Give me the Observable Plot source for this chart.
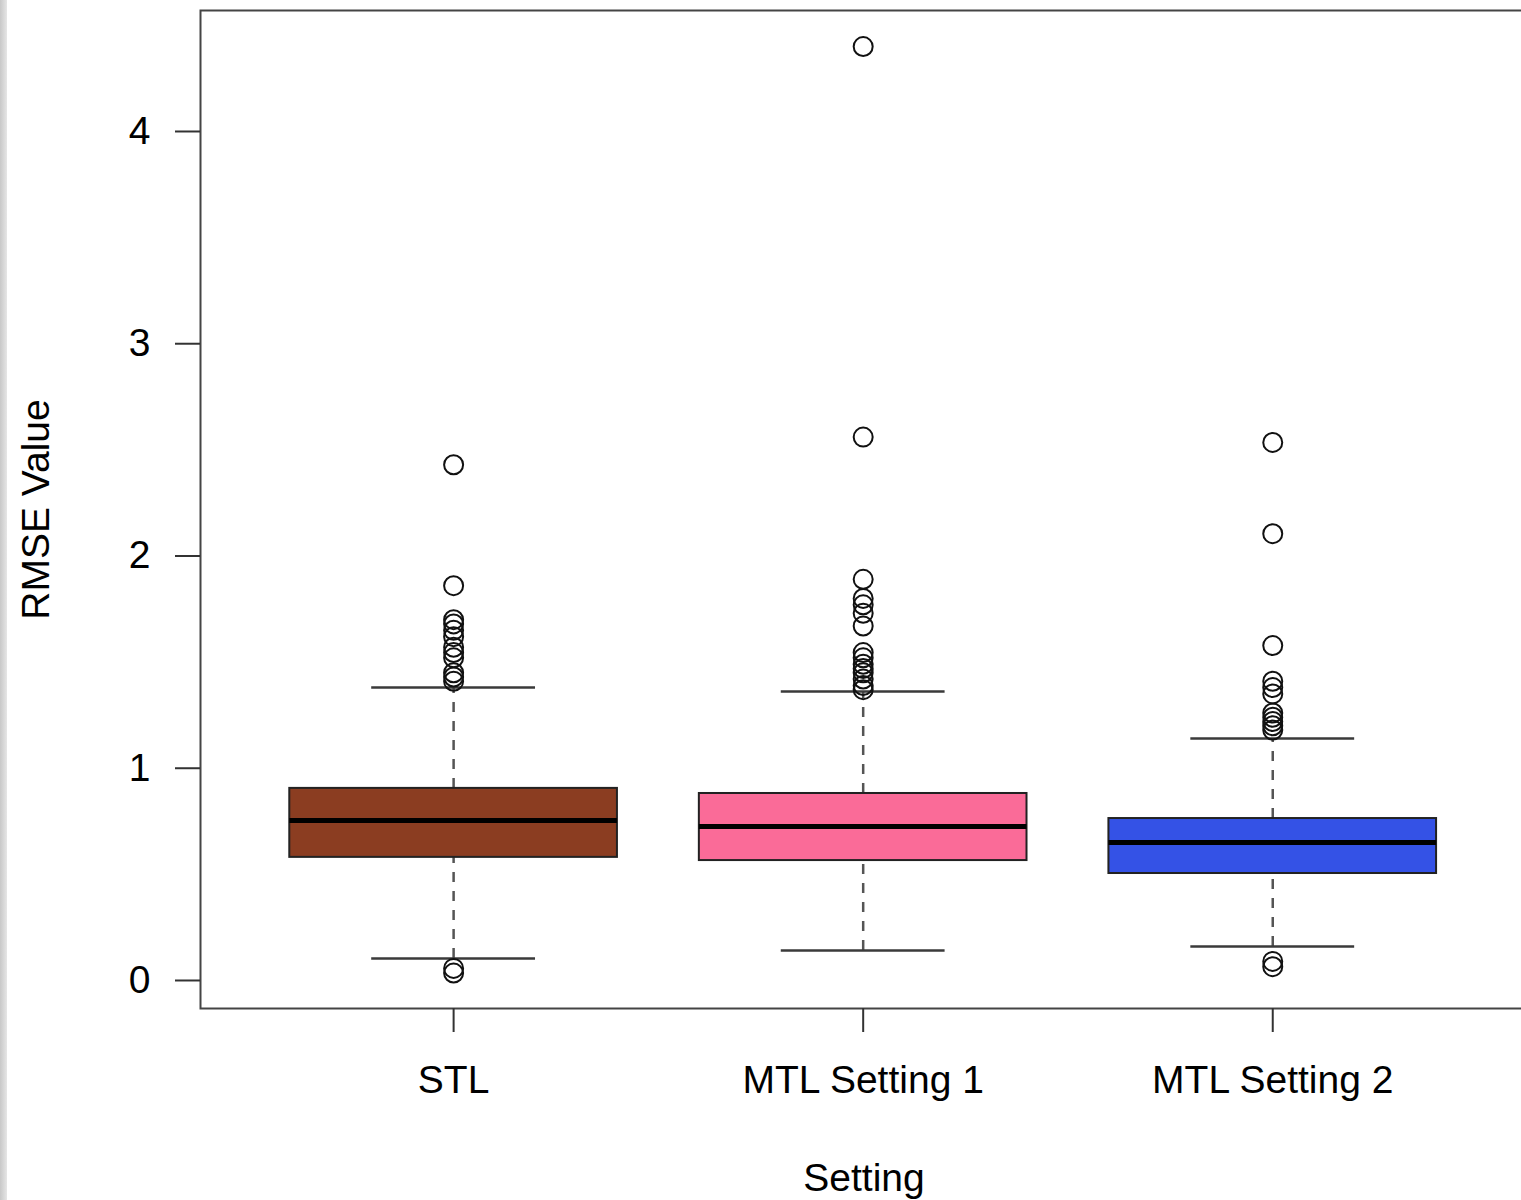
<!DOCTYPE html>
<html>
<head>
<meta charset="utf-8">
<script src="https://cdn.jsdelivr.net/npm/d3@7"></script>
<script src="https://cdn.jsdelivr.net/npm/@observablehq/plot@0.6"></script>
<style>
  html, body { margin: 0; padding: 0; background: white; overflow: hidden; }
  #wrap { position: relative; width: 1521px; height: 1200px; overflow: hidden; }
  #strip { position: absolute; left: 0; top: 0; width: 7px; height: 1200px;
           background: linear-gradient(to right, #c8c8c8, #e6e6e6); }
</style>
</head>
<body>
<div id="wrap"><div id="chart"></div><div id="strip"></div></div>
<script>
// ---- data ----
const categories = ["STL", "MTL Setting 1", "MTL Setting 2"];
const boxColors = ["#8B3D21", "#FA6B98", "#3452E6"];
const q1 = [0.580, 0.565, 0.504];
const medians = [0.754, 0.726, 0.650];
const q3 = [0.905, 0.881, 0.763];
const whiskerLow = [0.104, 0.141, 0.160];
const whiskerHigh = [1.380, 1.362, 1.140];
const outliersSTL = [2.43, 1.86, 1.70, 1.68, 1.65, 1.62, 1.57, 1.545, 1.52, 1.45, 1.43, 1.41, 0.057, 0.035];
const outliersMTL1 = [4.40, 2.56, 1.89, 1.80, 1.77, 1.73, 1.67, 1.545, 1.52, 1.49, 1.47, 1.45, 1.42, 1.39, 1.37];
const outliersMTL2 = [2.535, 2.105, 1.578, 1.41, 1.38, 1.35, 1.26, 1.24, 1.22, 1.20, 1.18, 0.09, 0.065];
const yTicks = [0, 1, 2, 3, 4];

// ---- tables built from the arrays ----
const boxes = categories.map((c, i) => ({
  pos: i + 1, name: c, color: boxColors[i],
  q1: q1[i], med: medians[i], q3: q3[i], lo: whiskerLow[i], hi: whiskerHigh[i]
}));
const outliers = [outliersSTL, outliersMTL1, outliersMTL2]
  .flatMap((arr, i) => arr.map(v => ({pos: i + 1, value: v})));

const halfBox = 0.4, halfCap = 0.2;

const chart = Plot.plot({
  width: 1527,
  height: 1200,
  marginLeft: 200,
  marginRight: 0,
  marginTop: 10,
  marginBottom: 192,
  style: {fontFamily: "'Liberation Sans', Arial, Helvetica, sans-serif", fontSize: "39px", background: "white", color: "black", maxWidth: "none"},
  x: {type: "linear", domain: [0.382, 3.622], axis: null},
  y: {domain: [-0.132, 4.570], axis: null},
  marks: [
    Plot.frame({stroke: "#444", strokeWidth: 2}),
    // whiskers (dashed)
    Plot.ruleX(boxes, {x: "pos", y1: "q3", y2: "hi", stroke: "#555", strokeWidth: 2.5, strokeDasharray: "10,9"}),
    Plot.ruleX(boxes, {x: "pos", y1: "lo", y2: "q1", stroke: "#555", strokeWidth: 2.5, strokeDasharray: "10,9"}),
    // staples
    Plot.ruleY(boxes, {y: "hi", x1: d => d.pos - halfCap, x2: d => d.pos + halfCap, stroke: "#3a3a3a", strokeWidth: 2.5}),
    Plot.ruleY(boxes, {y: "lo", x1: d => d.pos - halfCap, x2: d => d.pos + halfCap, stroke: "#3a3a3a", strokeWidth: 2.5}),
    // boxes
    Plot.rect(boxes, {x1: d => d.pos - halfBox, x2: d => d.pos + halfBox, y1: "q1", y2: "q3", fill: "color", stroke: "#222", strokeWidth: 2}),
    // medians
    Plot.ruleY(boxes, {y: "med", x1: d => d.pos - halfBox, x2: d => d.pos + halfBox, stroke: "black", strokeWidth: 5}),
    // outliers
    Plot.dot(outliers, {x: "pos", y: "value", r: 9.5, stroke: "#111", strokeWidth: 2, fill: "none"}),
    // axes
    Plot.axisY({ticks: yTicks, tickFormat: d3.format("d"), tickSize: 25, tickPadding: 25, stroke: "#333", strokeWidth: 2,
      label: "RMSE Value", labelAnchor: "center", labelOffset: 179, labelArrow: "none"}),
    Plot.axisX({ticks: [1, 2, 3], tickFormat: i => categories[i - 1], tickSize: 24, tickPadding: 33, stroke: "#333", strokeWidth: 2,
      label: "Setting", labelAnchor: "center", labelOffset: 182, labelArrow: "none"})
  ]
});
document.getElementById("chart").appendChild(chart);
</script>
</body>
</html>
